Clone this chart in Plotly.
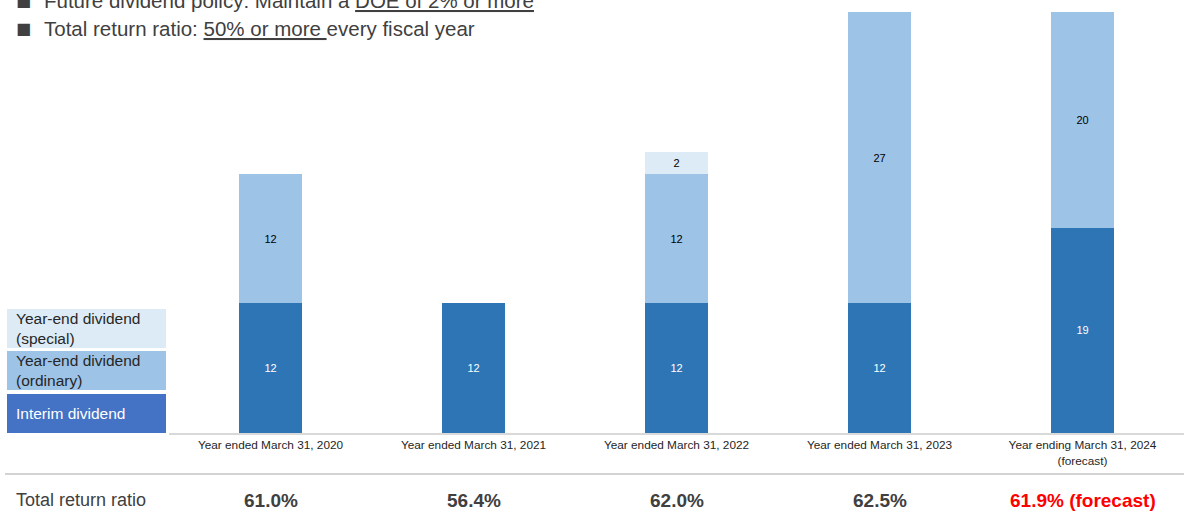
import plotly.graph_objects as go

categories = ["Year ended March 31, 2020", "Year ended March 31, 2021", "Year ended March 31, 2022",
              "Year ended March 31, 2023", "Year ending March 31, 2024<br>(forecast)"]
interim = [12, 12, 12, 12, 19]
year_end_ordinary = [12, None, 12, 27, 20]
year_end_special = [None, None, 2, None, None]
return_ratio = ["61.0%", "56.4%", "62.0%", "62.5%", "61.9% (forecast)"]
ratio_colors = ["#404040", "#404040", "#404040", "#404040", "#FF0000"]

SANS = "Liberation Sans, Arial"
W, H = 1184, 518

def py(px):
    return (H - px) / H

def pxx(px):
    return px / W

fig = go.Figure()
fig.add_bar(x=categories, y=interim, name="Interim dividend", marker_color="#2E75B6",
            text=interim, textposition="inside", insidetextanchor="middle",
            textfont=dict(color="white", size=11, family=SANS))
fig.add_bar(x=categories, y=year_end_ordinary, name="Year-end dividend (ordinary)", marker_color="#9DC3E6",
            text=year_end_ordinary, textposition="inside", insidetextanchor="middle",
            textfont=dict(color="black", size=11, family=SANS))
fig.add_bar(x=categories, y=year_end_special, name="Year-end dividend (special)", marker_color="#DDEBF7",
            text=year_end_special, textposition="inside", insidetextanchor="middle",
            textfont=dict(color="black", size=11, family=SANS))

fig.update_traces(marker_line_width=0, cliponaxis=True)

fig.update_layout(
    width=W, height=H, barmode="stack", bargap=0.685, showlegend=False,
    margin=dict(l=0, r=0, t=0, b=0), plot_bgcolor="white", paper_bgcolor="white",
    uniformtext=dict(mode="show", minsize=8),
    xaxis=dict(domain=[pxx(169), 1], showline=True, linecolor="#D9D9D9", linewidth=2,
               tickfont=dict(size=11.8, family=SANS, color="#262626"), ticks="",
               anchor="y", fixedrange=True),
    yaxis=dict(domain=[py(433), py(12)], range=[0, 39], visible=False, showgrid=False,
               fixedrange=True),
)

# Legend boxes
legend_items = [
    (309, 348, "#DDEBF7", "Year-end dividend<br>(special)", "#262626"),
    (351, 390, "#9DC3E6", "Year-end dividend<br>(ordinary)", "#262626"),
    (394, 433, "#4472C4", "Interim dividend", "white"),
]
for y0, y1, col, label, tcol in legend_items:
    fig.add_shape(type="rect", xref="paper", yref="paper", x0=pxx(7), x1=pxx(166),
                  y0=py(y1), y1=py(y0), fillcolor=col, line_width=0, layer="below")
    fig.add_annotation(xref="paper", yref="paper", x=pxx(14), y=py((y0 + y1) / 2),
                       text=label, showarrow=False, xanchor="left", yanchor="middle", align="left",
                       font=dict(size=15.5, family=SANS, color=tcol))

# Separator line
fig.add_shape(type="line", xref="paper", yref="paper", x0=pxx(5), x1=1, y0=py(474), y1=py(474),
              line=dict(color="#A6A6A6", width=1))

fig.add_annotation(xref="paper", yref="paper", x=pxx(14), y=py(500), text="Total return ratio",
                   showarrow=False, xanchor="left", yanchor="middle",
                   font=dict(size=18, family=SANS, color="#404040"))
for cat, txt, col in zip(categories, return_ratio, ratio_colors):
    fig.add_annotation(xref="x", yref="paper", x=cat, y=py(500), text="<b>" + txt + "</b>",
                       showarrow=False, xanchor="center", yanchor="middle",
                       font=dict(size=19, family=SANS, color=col))

# Top policy text
top_lines = [
    (1, "Future dividend policy: Maintain a <u>DOE of 2% or more</u>"),
    (28, "Total return ratio: <u>50% or more </u>every fiscal year"),
]
for ypx, txt in top_lines:
    fig.add_annotation(xref="paper", yref="paper", x=pxx(14), y=py(ypx), yanchor="middle", xanchor="left",
                       text="■", showarrow=False, font=dict(size=16, family="DejaVu Sans", color="#404040"))
    fig.add_annotation(xref="paper", yref="paper", x=pxx(42), y=py(ypx), yanchor="middle", xanchor="left",
                       text=txt, showarrow=False, font=dict(size=20.5, family=SANS, color="#404040"))

fig.write_html("out.html", config={"displayModeBar": False},
               post_script="document.body.style.margin='0px';")
